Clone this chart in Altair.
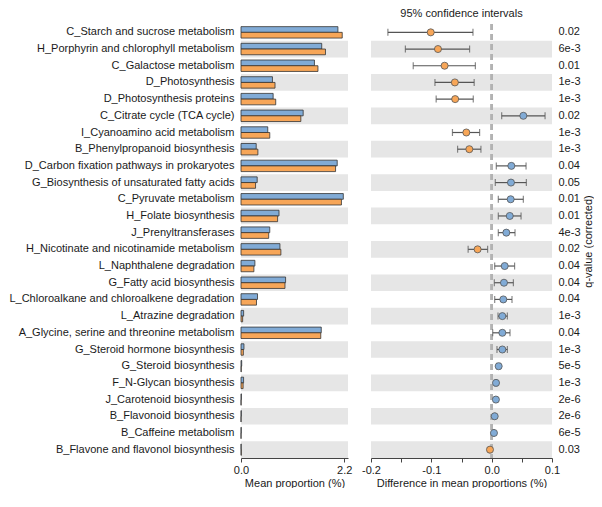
import altair as alt
import pandas as pd

pathways = [
    "C_Starch and sucrose metabolism",
    "H_Porphyrin and chlorophyll metabolism",
    "C_Galactose metabolism",
    "D_Photosynthesis",
    "D_Photosynthesis proteins",
    "C_Citrate cycle (TCA cycle)",
    "I_Cyanoamino acid metabolism",
    "B_Phenylpropanoid biosynthesis",
    "D_Carbon fixation pathways in prokaryotes",
    "G_Biosynthesis of unsaturated fatty acids",
    "C_Pyruvate metabolism",
    "H_Folate biosynthesis",
    "J_Prenyltransferases",
    "H_Nicotinate and nicotinamide metabolism",
    "L_Naphthalene degradation",
    "G_Fatty acid biosynthesis",
    "L_Chloroalkane and chloroalkene degradation",
    "L_Atrazine degradation",
    "A_Glycine, serine and threonine metabolism",
    "G_Steroid hormone biosynthesis",
    "G_Steroid biosynthesis",
    "F_N-Glycan biosynthesis",
    "J_Carotenoid biosynthesis",
    "B_Flavonoid biosynthesis",
    "B_Caffeine metabolism",
    "B_Flavone and flavonol biosynthesis",
]

mean_blue = [2.065, 1.72, 1.565, 0.67, 0.685, 1.325, 0.57, 0.324, 2.05, 0.345,
             2.18, 0.81, 0.613, 0.83, 0.296, 0.95, 0.352, 0.056, 1.71, 0.063,
             0.015, 0.055, 0.008, 0.006, 0.005, 0.003]
mean_orange = [2.157, 1.80, 1.64, 0.725, 0.74, 1.275, 0.613, 0.36, 2.015, 0.31,
               2.14, 0.78, 0.59, 0.85, 0.275, 0.937, 0.33, 0.035, 1.70, 0.05,
               0.005, 0.045, 0.002, 0.001, 0.001, 0.006]

diff = [-0.101, -0.089, -0.078, -0.061, -0.0605, 0.0525, -0.042, -0.037, 0.0326, 0.032,
        0.0315, 0.030, 0.0243, -0.0233, 0.0216, 0.0204, 0.0193, 0.0177, 0.0177, 0.0177,
        0.0116, 0.0072, 0.0070, 0.0050, 0.0038, -0.0028]
ci_low = [-0.172, -0.143, -0.130, -0.094, -0.092, 0.0166, -0.065, -0.0565, 0.0077, 0.006,
          0.011, 0.011, 0.011, -0.039, 0.005, 0.0044, 0.005, 0.0105, 0.0017, 0.0088,
          0.009, 0.005, 0.005, 0.004, 0.003, -0.004]
ci_high = [-0.031, -0.0366, -0.027, -0.029, -0.0305, 0.0885, -0.020, -0.0178, 0.057, 0.0575,
           0.0525, 0.0487, 0.0387, -0.0067, 0.038, 0.036, 0.0337, 0.026, 0.0304, 0.026,
           0.014, 0.009, 0.009, 0.006, 0.0045, -0.0015]
qvalues = ["0.02", "6e-3", "0.01", "1e-3", "1e-3", "0.02", "1e-3", "1e-3", "0.04", "0.05",
           "0.01", "0.01", "4e-3", "0.02", "0.04", "0.04", "0.04", "1e-3", "0.04", "1e-3",
           "5e-5", "1e-3", "2e-6", "2e-6", "6e-5", "0.03"]

BLUE = "#81abd6"
ORANGE = "#f7a658"
BAND = "#e6e6e6"
FONT = "Liberation Sans"

rows = pd.DataFrame({
    "pathway": pathways,
    "idx": list(range(len(pathways))),
    "diff": diff,
    "lo": ci_low,
    "hi": ci_high,
    "q": qvalues,
})
rows["shade"] = rows["idx"] % 2 == 1
rows["grp"] = ["pos" if d > 0 else "neg" for d in diff]

bars_df = pd.concat([
    pd.DataFrame({"pathway": pathways, "grp": "a", "value": mean_blue}),
    pd.DataFrame({"pathway": pathways, "grp": "b", "value": mean_orange}),
])

ysc = alt.Scale(domain=pathways, paddingInner=0, paddingOuter=0)

yL = alt.Y("pathway:N", scale=ysc, sort=None,
           axis=alt.Axis(title=None, domain=False, ticks=False, labelFontSize=11,
                         labelPadding=7, labelLimit=400, labelColor="#1a1a1a", labelFont=FONT))

xL_scale = alt.Scale(domain=[0, 2.28], nice=False, zero=True)
xL_axis = alt.Axis(values=[0, 2.2], format=".1f", title="Mean proportion (%)",
                   tickSize=4, labelFontSize=11, titleFontSize=11, titleFontWeight="normal",
                   labelFont=FONT, titleFont=FONT, domainColor="#444", tickColor="#444",
                   labelColor="#1a1a1a", titleColor="#1a1a1a", grid=False, titlePadding=2,
                   labelPadding=2, labelFlush=False)

bandsL = alt.Chart(rows).transform_filter("datum.shade").mark_rect(color=BAND).encode(
    y=yL,
    x=alt.X(datum=0, type="quantitative", scale=xL_scale, axis=xL_axis),
    x2=alt.datum(2.28),
)

barsL = alt.Chart(bars_df).mark_bar(stroke="#333333", strokeWidth=0.8).encode(
    y=yL,
    yOffset=alt.YOffset("grp:N", scale=alt.Scale(domain=["a", "b"], paddingInner=0, paddingOuter=0.46)),
    x=alt.X("value:Q", scale=xL_scale, axis=xL_axis),
    fill=alt.Fill("grp:N", scale=alt.Scale(domain=["a", "b"], range=[BLUE, ORANGE]), legend=None),
)

left = alt.layer(bandsL, barsL).properties(width=107, height=434)

label_expr = "[" + ",".join("'%s'" % q for q in qvalues) + "][indexof([" + \
    ",".join("'%s'" % p for p in pathways) + "], datum.value)]"

yR = alt.Y("pathway:N", scale=ysc, sort=None,
           axis=alt.Axis(orient="right", title="q-value (corrected)", titleAngle=270,
                         titleBaseline="top", titleAlign="center",
                         domain=False, ticks=False, labelExpr=label_expr, labelPadding=6,
                         labelFontSize=11, titleFontSize=11, titleFontWeight="normal",
                         labelFont=FONT, titleFont=FONT, labelColor="#1a1a1a",
                         titleColor="#1a1a1a", titlePadding=2))

xR_scale = alt.Scale(domain=[-0.2, 0.1], nice=False, zero=False)
xR_label = ("abs(datum.value+0.2)<0.001 ? '-0.2' : abs(datum.value+0.1)<0.001 ? '-0.1' : "
            "abs(datum.value)<0.001 ? '0.0' : abs(datum.value-0.1)<0.001 ? '0.1' : ''")
xR_axis = alt.Axis(values=[-0.2, -0.15, -0.1, -0.05, 0, 0.05, 0.1], labelExpr=xR_label,
                   title="Difference in mean proportions (%)", tickSize=4, labelFontSize=11,
                   titleFontSize=11, titleFontWeight="normal", labelFont=FONT, titleFont=FONT,
                   domainColor="#444", tickColor="#444", labelColor="#1a1a1a",
                   titleColor="#1a1a1a", grid=False, titlePadding=2, labelPadding=2,
                   labelFlush=False)

bandsR = alt.Chart(rows).transform_filter("datum.shade").mark_rect(color=BAND).encode(
    y=yR,
    x=alt.X(datum=-0.2, type="quantitative", scale=xR_scale, axis=xR_axis),
    x2=alt.datum(0.1),
)

zero_rule = alt.Chart(rows).mark_rule(color="#b3b3b3", strokeDash=[6, 4], strokeWidth=1.5).encode(
    x=alt.X(datum=0, type="quantitative", scale=xR_scale, axis=xR_axis),
)

ci = alt.Chart(rows).mark_rule(color="#555555", strokeWidth=1.2).encode(
    y=yR,
    x=alt.X("lo:Q", scale=xR_scale, axis=xR_axis),
    x2="hi:Q",
)

caps = alt.Chart(rows).transform_fold(["lo", "hi"], as_=["end", "xv"]).mark_tick(
    color="#555555", thickness=1.2, size=7).encode(
    y=yR,
    x=alt.X("xv:Q", scale=xR_scale, axis=xR_axis),
)

points = alt.Chart(rows).mark_circle(size=50, stroke="#555555", strokeWidth=0.8, opacity=1).encode(
    y=yR,
    x=alt.X("diff:Q", scale=xR_scale, axis=xR_axis),
    fill=alt.Fill("grp:N", scale=alt.Scale(domain=["pos", "neg"], range=[BLUE, ORANGE]), legend=None),
)

right = alt.layer(bandsR, zero_rule, ci, caps, points).properties(
    width=181, height=434,
    title=alt.TitleParams("95% confidence intervals", fontSize=11, fontWeight="normal",
                          font=FONT, color="#1a1a1a", offset=4, anchor="middle"),
)

chart = alt.hconcat(left, right, spacing=9).resolve_scale(
    x="independent", fill="independent", y="shared"
).properties(padding=0).configure_view(stroke=None)

chart.save("out.html", embed_options={"renderer": "svg", "actions": False})
